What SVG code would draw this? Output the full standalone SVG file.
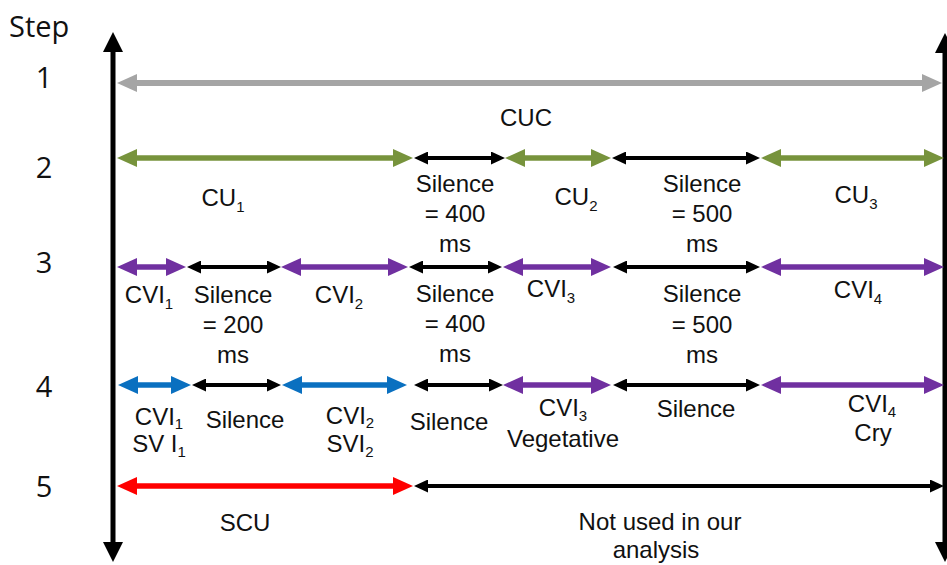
<svg xmlns="http://www.w3.org/2000/svg" width="947" height="565" viewBox="0 0 947 565">
<style>
.lbl{font-family:"Liberation Sans",Arial,sans-serif;font-size:24px;fill:#111;text-anchor:middle}
.sub{font-size:15px}
.step{font-family:"Open Sans","Liberation Sans",sans-serif;font-size:29px;fill:#111}
.num{text-anchor:middle}
.c{stroke-width:5.5;fill:none}
.k{stroke:#000;stroke-width:4;fill:none;marker-start:url(#hk);marker-end:url(#hk)}
.gray{stroke:#a5a5a5;stroke-width:6;marker-start:url(#hgray);marker-end:url(#hgray)}
.green{stroke:#77933c;marker-start:url(#hgreen);marker-end:url(#hgreen)}
.purple{stroke:#7030a0;marker-start:url(#hpurple);marker-end:url(#hpurple)}
.blue{stroke:#0a70c0;marker-start:url(#hblue);marker-end:url(#hblue)}
.red{stroke:#ff0000;marker-start:url(#hred);marker-end:url(#hred)}
.axis{stroke:#000;stroke-width:5;fill:none;marker-start:url(#hax);marker-end:url(#hax)}
</style>
<defs>
<marker id="hgray" markerUnits="userSpaceOnUse" viewBox="0 0 20 18" markerWidth="20" markerHeight="18" refX="3" refY="9" orient="auto-start-reverse"><path d="M0,0 L20,9 L0,18 z" fill="#a5a5a5"/></marker>
<marker id="hgreen" markerUnits="userSpaceOnUse" viewBox="0 0 20 18" markerWidth="20" markerHeight="18" refX="3" refY="9" orient="auto-start-reverse"><path d="M0,0 L20,9 L0,18 z" fill="#77933c"/></marker>
<marker id="hpurple" markerUnits="userSpaceOnUse" viewBox="0 0 20 18" markerWidth="20" markerHeight="18" refX="3" refY="9" orient="auto-start-reverse"><path d="M0,0 L20,9 L0,18 z" fill="#7030a0"/></marker>
<marker id="hblue" markerUnits="userSpaceOnUse" viewBox="0 0 20 18" markerWidth="20" markerHeight="18" refX="3" refY="9" orient="auto-start-reverse"><path d="M0,0 L20,9 L0,18 z" fill="#0a70c0"/></marker>
<marker id="hred" markerUnits="userSpaceOnUse" viewBox="0 0 20 18" markerWidth="20" markerHeight="18" refX="3" refY="9" orient="auto-start-reverse"><path d="M0,0 L20,9 L0,18 z" fill="#ff0000"/></marker>
<marker id="hk" markerUnits="userSpaceOnUse" viewBox="0 0 14 13" markerWidth="14" markerHeight="13" refX="3" refY="6.5" orient="auto-start-reverse"><path d="M0,0 L14,6.5 L0,13 z" fill="#000"/></marker>
<marker id="hax" markerUnits="userSpaceOnUse" viewBox="0 0 20 20" markerWidth="20" markerHeight="20" refX="3" refY="10" orient="auto-start-reverse"><path d="M0,0 L20,10 L0,20 z" fill="#000"/></marker>
</defs>
<rect width="947" height="565" fill="#fff"/>

<g id="step-labels">
<text class="step" x="9" y="37">Step</text>
<text class="step num" x="44" y="88">1</text>
<text class="step num" x="44" y="178">2</text>
<text class="step num" x="44" y="273">3</text>
<text class="step num" x="44" y="397">4</text>
<text class="step num" x="44" y="497">5</text>
</g>

<g id="connectors">
<line class="axis" x1="113" y1="545" x2="113" y2="49"/>
<line class="axis" x1="945" y1="50" x2="945" y2="545"/>
</g>

<g id="s1-cuc">
<line class="c gray" x1="134" y1="83" x2="925" y2="83"/>
<text class="lbl" x="526" y="126">CUC</text>
</g>

<g id="s2-cu1"><line class="c green" x1="134" y1="158" x2="396" y2="158"/><text class="lbl" x="223" y="206">CU<tspan class="sub" dy="6">1</tspan></text></g>
<g id="s2-sil400"><line class="k" x1="425" y1="158" x2="494" y2="158"/><text class="lbl" x="455" y="192">Silence</text><text class="lbl" x="455" y="222">= 400</text><text class="lbl" x="455" y="252">ms</text></g>
<g id="s2-cu2"><line class="c green" x1="522" y1="158" x2="594" y2="158"/><text class="lbl" x="576" y="205">CU<tspan class="sub" dy="6">2</tspan></text></g>
<g id="s2-sil500"><line class="k" x1="623" y1="158" x2="749" y2="158"/><text class="lbl" x="702" y="192">Silence</text><text class="lbl" x="702" y="222">= 500</text><text class="lbl" x="702" y="252">ms</text></g>
<g id="s2-cu3"><line class="c green" x1="778" y1="158" x2="927" y2="158"/><text class="lbl" x="856" y="203">CU<tspan class="sub" dy="6">3</tspan></text></g>

<g id="s3-cvi1"><line class="c purple" x1="134" y1="267" x2="169" y2="267"/><text class="lbl" x="149" y="303">CVI<tspan class="sub" dy="6">1</tspan></text></g>
<g id="s3-sil200"><line class="k" x1="198" y1="267" x2="270" y2="267"/><text class="lbl" x="233" y="303">Silence</text><text class="lbl" x="233" y="333">= 200</text><text class="lbl" x="233" y="363">ms</text></g>
<g id="s3-cvi2"><line class="c purple" x1="298" y1="267" x2="391" y2="267"/><text class="lbl" x="339" y="303">CVI<tspan class="sub" dy="6">2</tspan></text></g>
<g id="s3-sil400"><line class="k" x1="420" y1="267" x2="491" y2="267"/><text class="lbl" x="455" y="302">Silence</text><text class="lbl" x="455" y="332">= 400</text><text class="lbl" x="455" y="362">ms</text></g>
<g id="s3-cvi3"><line class="c purple" x1="520" y1="267" x2="594" y2="267"/><text class="lbl" x="551" y="297">CVI<tspan class="sub" dy="6">3</tspan></text></g>
<g id="s3-sil500"><line class="k" x1="624" y1="267" x2="749" y2="267"/><text class="lbl" x="702" y="302">Silence</text><text class="lbl" x="702" y="333">= 500</text><text class="lbl" x="702" y="363">ms</text></g>
<g id="s3-cvi4"><line class="c purple" x1="778" y1="267" x2="927" y2="267"/><text class="lbl" x="858" y="298">CVI<tspan class="sub" dy="6">4</tspan></text></g>

<g id="s4-cvi1"><line class="c blue" x1="135" y1="385" x2="174" y2="385"/><text class="lbl" x="159" y="425">CVI<tspan class="sub" dy="4">1</tspan></text><text class="lbl" x="159" y="452">SV I<tspan class="sub" dy="5">1</tspan></text></g>
<g id="s4-sil1"><line class="k" x1="203" y1="385" x2="270" y2="385"/><text class="lbl" x="245" y="428">Silence</text></g>
<g id="s4-cvi2"><line class="c blue" x1="299" y1="385" x2="390" y2="385"/><text class="lbl" x="350" y="424">CVI<tspan class="sub" dy="4">2</tspan></text><text class="lbl" x="350" y="452">SVI<tspan class="sub" dy="5">2</tspan></text></g>
<g id="s4-sil2"><line class="k" x1="425" y1="385" x2="492" y2="385"/><text class="lbl" x="449" y="430">Silence</text></g>
<g id="s4-cvi3"><line class="c purple" x1="520" y1="385" x2="594" y2="385"/><text class="lbl" x="563" y="416">CVI<tspan class="sub" dy="5">3</tspan></text><text class="lbl" x="563" y="447">Vegetative</text></g>
<g id="s4-sil3"><line class="k" x1="624" y1="385" x2="749" y2="385"/><text class="lbl" x="696" y="417">Silence</text></g>
<g id="s4-cvi4"><line class="c purple" x1="778" y1="385" x2="927" y2="385"/><text class="lbl" x="872" y="412">CVI<tspan class="sub" dy="5">4</tspan></text><text class="lbl" x="873" y="441">Cry</text></g>

<g id="s5-scu"><line class="c red" x1="134" y1="486" x2="396" y2="486"/><text class="lbl" x="245" y="531">SCU</text></g>
<g id="s5-unused"><line class="k" x1="425" y1="486" x2="933" y2="486"/><text class="lbl" x="660" y="530">Not used in our</text><text class="lbl" x="656" y="558">analysis</text></g>
</svg>
